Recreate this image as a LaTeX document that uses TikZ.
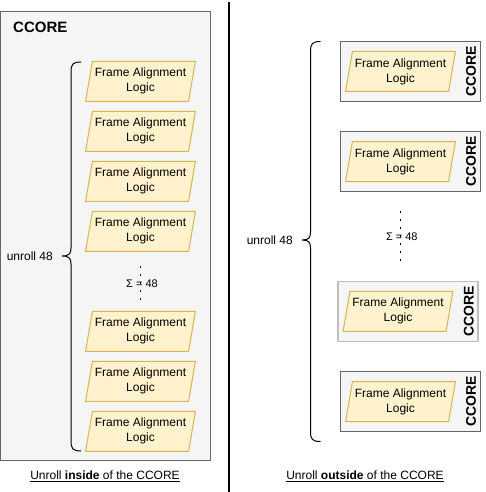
\documentclass[tikz,border=0pt]{standalone}
\usepackage{fontspec}
\setmainfont{Liberation Sans}
\usetikzlibrary{shapes.geometric,positioning}
\definecolor{corefill}{HTML}{F5F5F5}
\definecolor{coreline}{HTML}{666666}
\definecolor{falfill}{HTML}{FFF2CC}
\definecolor{falline}{HTML}{D6B656}
\tikzset{
  core/.style={rectangle,draw=coreline,fill=corefill,line width=1pt,minimum width=140pt,minimum height=60pt,inner sep=0pt},
  fal/.style={trapezium,trapezium left angle=76,trapezium right angle=104,trapezium stretches=true,
    draw=falline,fill=falfill,line width=1pt,minimum width=110pt,minimum height=40pt,inner sep=0pt,
    align=center,font=\fontsize{12}{15}\selectfont},
  corelbl/.style={font=\fontsize{14}{16}\selectfont\bfseries,inner sep=0pt},
  lbl/.style={font=\fontsize{12}{14}\selectfont,inner sep=0pt},
  sumlbl/.style={font=\fontsize{11}{13}\selectfont,inner sep=0pt},
  dots/.style={line width=1.6pt,dash pattern=on 1.6pt off 6.4pt},
  brace/.style={line width=1pt}
}
\begin{document}
\begin{tikzpicture}[x=1pt,y=-1pt,node distance=50pt]
    \useasboundingbox (0,0) rectangle (486,492);
    % left: unroll inside
    \draw[draw=coreline,fill=corefill,line width=1pt] (0.5,11.5) rectangle (210.5,460.5);
    \node[corelbl,font=\fontsize{15}{17}\selectfont\bfseries,anchor=west] (inTitle) at (13,27) {CCORE};
    \node[fal] (i1) at (140.5,81.3) {Frame Alignment\\Logic};
    \node[fal,below of=i1] (i2) {Frame Alignment\\Logic};
    \node[fal,below of=i2] (i3) {Frame Alignment\\Logic};
    \node[fal,below of=i3] (i4) {Frame Alignment\\Logic};
    \node[fal] (i5) at (140.5,331.3) {Frame Alignment\\Logic};
    \node[fal,below of=i5] (i6) {Frame Alignment\\Logic};
    \node[fal,below of=i6] (i7) {Frame Alignment\\Logic};
    \coordinate (inDotTop) at (140.5,266);
    \coordinate (inDotBot) at (140.5,302);
    \draw[dots] (inDotTop) -- (inDotBot);
    \node[sumlbl] (inSum) at (142,283.5) {Σ = 48};
    % left brace
    \coordinate (inBrTop) at (81,62);
    \coordinate (inBrTip) at (62,256);
    \coordinate (inBrBot) at (81,451);
    \draw[brace] (inBrTop) .. controls (73,62) and (71,64) .. (71,72) -- (71,248)
      .. controls (71,254) and (69,256) .. (inBrTip)
      .. controls (69,256) and (71,258) .. (71,264) -- (71,441)
      .. controls (71,449) and (73,451) .. (inBrBot);
    \node[lbl,left=9pt of inBrTip] (inUnroll) {unroll 48};
    \node[lbl] (inCap) at (105,476) {\underline{Unroll \textbf{inside} of the CCORE}};
    % divider
    \coordinate (divTop) at (229.3,2);
    \coordinate (divBot) at (229.3,492);
    \draw[line width=2pt] (divTop) -- (divBot);
    % right: unroll outside
    \node[core] (c1) at (410.5,71.4) {};
    \node[core] (c2) at (410.5,161.5) {};
    \node[core,draw=gray!50,line width=1.6pt] (c3) at (408,311.3) {};
    \node[core] (c4) at (410.5,401.7) {};
    \foreach \c in {c1,c2,c3,c4}{
      \node[fal] (\c f) at ([xshift=-10pt]\c.center) {Frame Alignment\\Logic};
      \node[corelbl,rotate=90] (\c l) at ([xshift=-10pt]\c.east) {CCORE};
    }
    \coordinate (outDotTop) at (400.3,211);
    \coordinate (outDotBot) at (400.3,262);
    \draw[dots] (outDotTop) -- (outDotBot);
    \node[sumlbl] (outSum) at (401.8,237) {Σ = 48};
    % right brace
    \coordinate (outBrTop) at (320.5,41.5);
    \coordinate (outBrTip) at (302,240);
    \coordinate (outBrBot) at (320.5,441.5);
    \draw[brace] (outBrTop) .. controls (312.5,41.5) and (310.5,43.5) .. (310.5,51.5) -- (310.5,232)
      .. controls (310.5,238) and (308.5,240) .. (outBrTip)
      .. controls (308.5,240) and (310.5,242) .. (310.5,248) -- (310.5,431.5)
      .. controls (310.5,439.5) and (312.5,441.5) .. (outBrBot);
    \node[lbl,left=9pt of outBrTip] (outUnroll) {unroll 48};
    \node[lbl] (outCap) at (365,476) {\underline{Unroll \textbf{outside} of the CCORE}};
\end{tikzpicture}
\end{document}
